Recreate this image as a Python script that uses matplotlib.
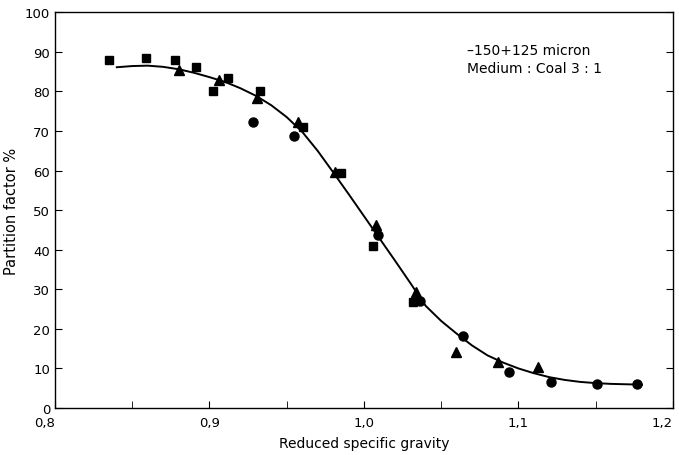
#partition curve plot, reduced specific gravity vs partition factor
import matplotlib
matplotlib.use('Agg')
import matplotlib.pyplot as plt

#measured points, one list per marker type
sq_x=[0.835,0.859,0.878,0.891,0.902,0.912,0.933,0.9605,0.985,1.006,1.032]
sq_y=[87.9,88.4,87.9,86.1,80.0,83.3,80.0,71.0,59.3,40.9,26.8]
tri_x=[0.880,0.906,0.931,0.957,0.981,1.008,1.034,1.0595,1.087,1.113]
tri_y=[85.4,82.8,78.3,72.2,59.6,46.2,29.3,14.1,11.6,10.4]
circ_x=[0.928,0.955,1.009,1.036,1.064,1.094,1.121,1.151,1.177]
circ_y=[72.2,68.7,43.7,27.0,18.2,9.1,6.6,6.1,6.1]

#fitted curve
curve_x=[0.84,0.85,0.86,0.87,0.88,0.89,0.90,0.91,0.92,0.93,0.94,0.95,0.96,0.97,0.98,
         0.99,1.00,1.01,1.02,1.03,1.04,1.05,1.06,1.07,1.08,1.09,1.10,1.11,1.12,
         1.13,1.14,1.15,1.16,1.17,1.18]
curve_y=[86.1,86.4,86.5,86.2,85.6,84.7,83.6,82.4,80.8,78.9,76.5,73.5,69.8,65.0,59.6,
         54.1,48.5,42.9,37.3,31.6,25.8,22.0,18.8,15.8,13.3,11.5,10.0,8.8,7.8,
         7.1,6.6,6.3,6.1,6.0,5.9]

xticks=[0.8,0.9,1.0,1.1,1.2]
xtick_labels=['0,8','0,9','1,0','1,1','1,2']
xminor=[0.85,0.95,1.05,1.15]
yticks=[0,10,20,30,40,50,60,70,80,90,100]

fig=plt.figure(figsize=(6.79,4.56),dpi=100)
ax=fig.add_axes([0.081,0.103,0.910,0.868])

ax.plot(curve_x,curve_y,'k-',lw=1.4)
ax.plot(sq_x,sq_y,'ks',ms=6,ls='none')
ax.plot(tri_x,tri_y,'k^',ms=6.5,ls='none')
ax.plot(circ_x,circ_y,'ko',ms=6.5,ls='none')

ax.set_xlim(0.8,1.2)
ax.set_ylim(0,100)
ax.set_xticks(xticks)
ax.set_xticklabels(xtick_labels)
ax.set_xticks(xminor,minor=True)
ax.set_yticks(yticks)
ax.tick_params(axis='x',which='both',direction='in',length=5,labelsize=9.5,pad=6)
ax.tick_params(axis='y',which='both',direction='in',length=5,labelsize=9.5,
               right=True,left=True)
#end labels sit a bit outside/inside their ticks, as in the original
ax.get_xticklabels()[0].set_horizontalalignment('right')
ax.get_xticklabels()[-1].set_horizontalalignment('right')
for s in ax.spines.values():
    s.set_linewidth(1.0)

ax.set_xlabel('Reduced specific gravity',fontsize=10,labelpad=5)
ax.set_ylabel('Partition factor %',fontsize=10.5,labelpad=4)

ax.text(1.067,90.5,'\u2013150+125 micron',fontsize=10,va='center')
ax.text(1.067,86.0,'Medium : Coal 3 : 1',fontsize=10,va='center')

plt.savefig('out.png',dpi=100)
